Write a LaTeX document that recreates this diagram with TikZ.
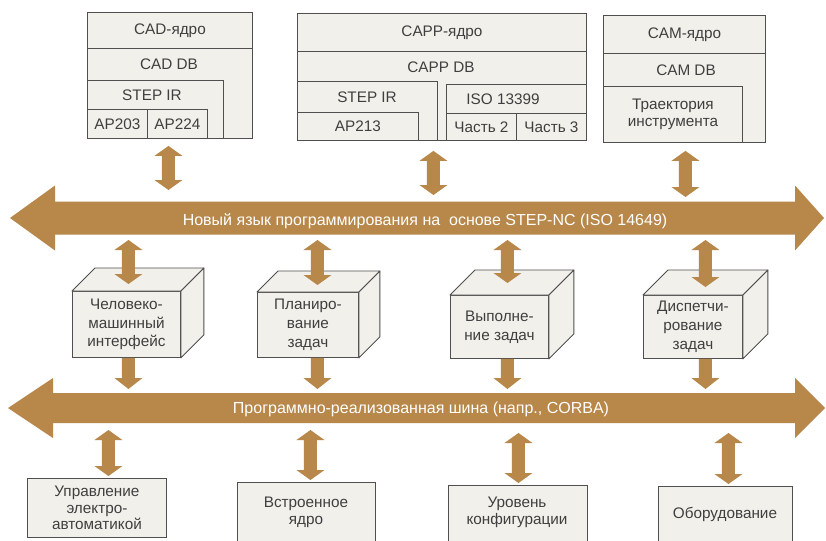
\documentclass[tikz,border=0pt]{standalone}
\usepackage{fontspec}
\setmainfont{Liberation Sans}
\usetikzlibrary{calc}

\definecolor{busbrown}{HTML}{B8874A}
\definecolor{panelfill}{HTML}{F2F0EB}
\definecolor{edge}{HTML}{4F4F4F}
\definecolor{ink}{HTML}{3F3F3F}

\tikzset{
  panel/.style={draw=edge, fill=panelfill, line width=0.9pt, inner sep=0pt,
    anchor=north west, text=ink, align=center,
    font=\fontsize{15.3}{16.8}\selectfont},
  lbl/.style={text=ink, inner sep=0pt, align=center,
    font=\fontsize{15.3}{16.8}\selectfont},
  cubeface/.style={draw=edge, fill=panelfill, line width=0.9pt, line join=round},
  cubetext/.style={font=\fontsize{15.3}{18.8}\selectfont},
  bustext/.style={text=white, inner sep=0pt, font=\fontsize{16}{18}\selectfont}
}

% vertical double-headed arrow from #1 (top tip) to #2 (bottom tip)
\newcommand\twoway[2]{%
  \fill[busbrown] let \p1=(#1), \p2=(#2) in
    (\x1,\y1) -- (\x1+14pt,\y1-10pt) -- (\x1+6.5pt,\y1-10pt)
    -- (\x1+6.5pt,\y2+10pt) -- (\x1+14pt,\y2+10pt) -- (\x1,\y2)
    -- (\x1-14pt,\y2+10pt) -- (\x1-6.5pt,\y2+10pt)
    -- (\x1-6.5pt,\y1-10pt) -- (\x1-14pt,\y1-10pt) -- cycle;}

% downward arrow: shaft starts at #1, tip at #2
\newcommand\oneway[2]{%
  \fill[busbrown] let \p1=(#1), \p2=(#2) in
    (\x1-6.5pt,\y1) -- (\x1+6.5pt,\y1) -- (\x1+6.5pt,\y2+11pt)
    -- (\x1+14pt,\y2+11pt) -- (\x1,\y2) -- (\x1-14pt,\y2+11pt)
    -- (\x1-6.5pt,\y2+11pt) -- cycle;}

% horizontal bus arrow: #1 left tip, #2 right tip, #3 half shaft,
% #4 half head, #5 left head length, #6 right head length
\newcommand\busway[6]{%
  \fill[busbrown] let \p1=(#1), \p2=(#2) in
    (\x1,\y1) -- (\x1+#5,\y1+#4) -- (\x1+#5,\y1+#3) -- (\x2-#6,\y1+#3)
    -- (\x2-#6,\y1+#4) -- (\x2,\y1) -- (\x2-#6,\y1-#4) -- (\x2-#6,\y1-#3)
    -- (\x1+#5,\y1-#3) -- (\x1+#5,\y1-#4) -- cycle;}

% box drawn as a cube: name, x, y, width, height, depth, text
\newcommand\cubeblock[7]{%
  \node[panel, cubetext, minimum width=#4pt, minimum height=#5pt] (#1) at (#2,#3) {#7};
  \path[cubeface] (#1.north west) -- ++(#6,-#6) -- ($(#1.north east)+(#6,-#6)$)
    -- (#1.north east) -- cycle;
  \path[cubeface] (#1.north east) -- ++(#6,-#6) -- ($(#1.south east)+(#6,-#6)$)
    -- (#1.south east) -- cycle;}

\begin{document}
\begin{tikzpicture}[x=1pt, y=-1pt]
\useasboundingbox (0,0) rectangle (826,540);
\fill[white] (0,0) rectangle (826,540);

% ---------- CAD ----------
\node[panel, minimum width=165pt, minimum height=126pt] (cad) at (87,12) {};
\node[panel, minimum width=165pt, minimum height=36pt] (cadcore) at (87,12) {CAD-ядро};
\node[lbl] (caddb) at (169,64) {CAD DB};
\node[panel, minimum width=136pt, minimum height=58pt] (cadstep) at (87,80) {};
\node[lbl] (cadsteplbl) at (152,95) {STEP IR};
\node[panel, minimum width=60pt, minimum height=29pt] (ap203) at (87,109) {AP203};
\node[panel, minimum width=60pt, minimum height=29pt] (ap224) at (147,109) {AP224};

% ---------- CAPP ----------
\node[panel, minimum width=289pt, minimum height=127pt] (capp) at (297,13) {};
\node[panel, minimum width=289pt, minimum height=38pt] (cappcore) at (297,13) {CAPP-ядро};
\node[lbl] (cappdb) at (441,67) {CAPP DB};
\node[panel, minimum width=140pt, minimum height=59pt] (cappstep) at (297,81) {};
\node[lbl] (cappsteplbl) at (367,97) {STEP IR};
\node[panel, minimum width=121pt, minimum height=28pt] (ap213) at (297,112) {AP213};
\node[panel, minimum width=140pt, minimum height=56pt] (iso) at (446,84) {};
\node[lbl] (isolbl) at (503,99) {ISO 13399};
\node[panel, minimum width=70pt, minimum height=27pt] (part2) at (446,113) {Часть 2};
\node[panel, minimum width=70pt, minimum height=27pt] (part3) at (516,113) {Часть 3};

% ---------- CAM ----------
\node[panel, minimum width=162pt, minimum height=127pt] (cam) at (603,15) {};
\node[panel, minimum width=162pt, minimum height=38pt] (camcore) at (603,15) {CAM-ядро};
\node[lbl] (camdb) at (686,70) {CAM DB};
\node[panel, minimum width=139pt, minimum height=56pt] (tool) at (603,86) {Траектория\\инструмента};

% ---------- buses ----------
\coordinate (bus1L) at (10,218);
\coordinate (bus1R) at (824,218);
\coordinate (bus1N) at (417,202);
\coordinate (bus1S) at (417,235);
\busway{bus1L}{bus1R}{16.5pt}{32.5pt}{45pt}{29pt}
\node[bustext] (bus1lbl) at (425,221) {Новый язык программирования на \ основе STEP-NC (ISO 14649)};

\coordinate (bus2L) at (8,408);
\coordinate (bus2R) at (825,408);
\coordinate (bus2N) at (417,393);
\coordinate (bus2S) at (417,423);
\busway{bus2L}{bus2R}{15pt}{30pt}{45pt}{30pt}
\node[bustext] (bus2lbl) at (421,409) {Программно-реализованная шина (напр., CORBA)};

% ---------- cubes ----------
\cubeblock{c1}{72}{291}{108}{66}{23}{Человеко-\\машинный\\интерфейс}
\cubeblock{c2}{257}{292}{101}{65}{21}{Планиро-\\вание\\задач}
\cubeblock{c3}{450}{295}{98}{63}{25}{Выполне-\\ние задач}
\cubeblock{c4}{643}{295}{99}{63}{25}{Диспетчи-\\рование\\задач}

% ---------- bottom boxes ----------
\node[panel, minimum width=139pt, minimum height=59pt] (b1) at (27,478) {};
\node[lbl] (b1lbl) at (b1.center) {Управление\\электро-\\автоматикой};
\node[panel, minimum width=138pt, minimum height=70pt] (b2) at (237,482) {};
\node[lbl] (b2lbl) at (306,512) {Встроенное\\ядро};
\node[panel, minimum width=139pt, minimum height=70pt] (b3) at (448,485) {};
\node[lbl] (b3lbl) at (517,512) {Уровень\\конфигурации};
\node[panel, minimum width=134pt, minimum height=70pt] (b4) at (658,486) {};
\node[lbl] (b4lbl) at (725,514) {Оборудование};

% ---------- connectors: application blocks <-> upper bus ----------
\twoway{$(cad.south)+(-1.5,7)$}{$(cad.south |- bus1N)+(-1.5,-12)$}
\twoway{$(capp.south)+(-8.5,10)$}{$(capp.south |- bus1N)+(-8.5,-7)$}
\twoway{$(cam.south)+(1,8)$}{$(cam.south |- bus1N)+(1,-5)$}

% ---------- connectors: upper bus <-> cubes ----------
\twoway{$(c1.north |- bus1S)+(2,5)$}{$(c1.north)+(2,-7)$}
\twoway{$(c2.north |- bus1S)+(9.5,5)$}{$(c2.north)+(9.5,-7)$}
\twoway{$(c3.north |- bus1S)+(8,5)$}{$(c3.north)+(8,-12)$}
\twoway{$(c4.north |- bus1S)+(12.5,5)$}{$(c4.north)+(12.5,-8)$}

% ---------- connectors: cubes -> lower bus ----------
\oneway{$(c1.south)+(2,0)$}{$(c1.south |- bus2N)+(2,-4)$}
\oneway{$(c2.south)+(9.5,0)$}{$(c2.south |- bus2N)+(9.5,-4)$}
\oneway{$(c3.south)+(8,0)$}{$(c3.south |- bus2N)+(8,-4)$}
\oneway{$(c4.south)+(12.5,0)$}{$(c4.south |- bus2N)+(12.5,-4)$}

% ---------- connectors: lower bus <-> bottom boxes ----------
\twoway{$(b1.north |- bus2S)+(11.5,7)$}{$(b1.north)+(11.5,-2)$}
\twoway{$(b2.north |- bus2S)+(4,7)$}{$(b2.north)+(4,-2)$}
\twoway{$(b3.north |- bus2S)+(0.5,10)$}{$(b3.north)+(0.5,-2)$}
\twoway{$(b4.north |- bus2S)+(3,10)$}{$(b4.north)+(3,-2)$}
\end{tikzpicture}
\end{document}
